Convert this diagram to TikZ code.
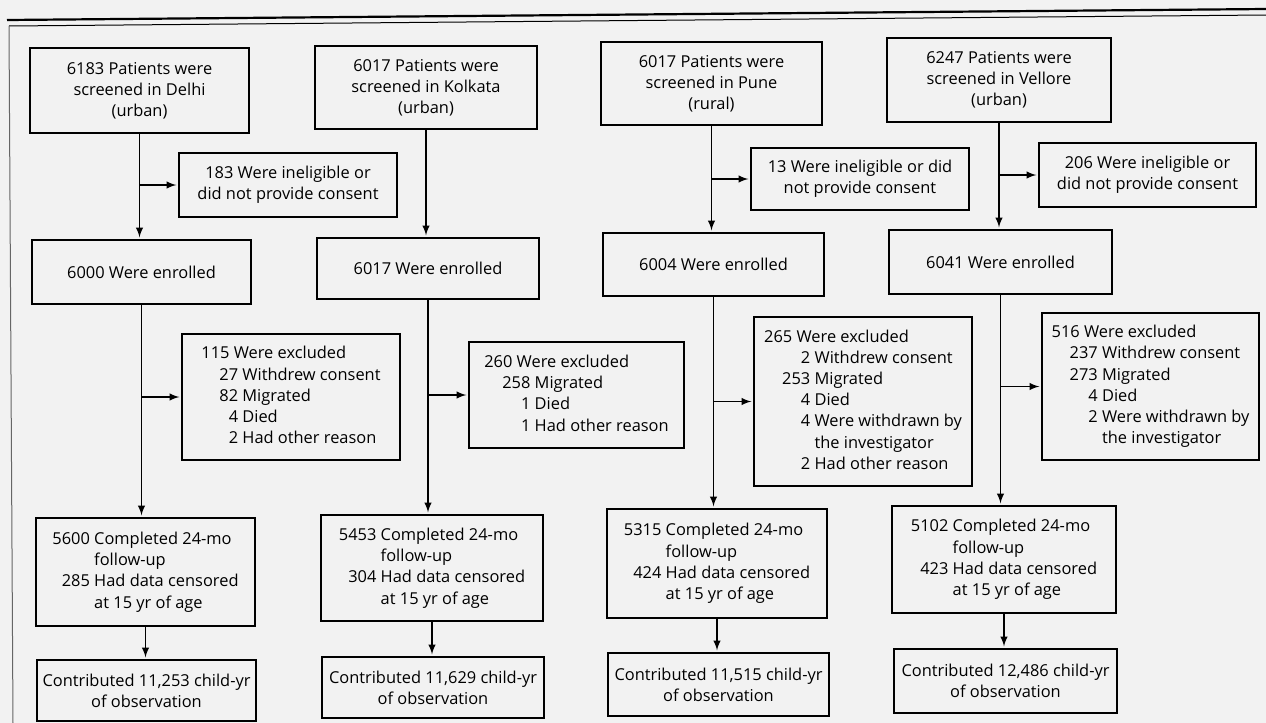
\documentclass[tikz,border=0pt]{standalone}
\usepackage{fontspec}
\setmainfont{Open Sans}
\usetikzlibrary{arrows}
\tikzset{
	box/.style={draw, line width=0.7pt, inner sep=0pt, align=center, font=\fontsize{8.2}{10.6}\selectfont},
	flow/.style={line width=0.7pt, -latex, shorten >=1pt}
}
\begin{document}
\begin{tikzpicture}[x=0.5pt,y=-0.5pt]
	\useasboundingbox (0,0) rectangle (1266,723);
	\fill[black!5] (0,0) rectangle (1266,723);
	% frame
	\draw[line width=1.1pt] (7,20)--(1266,9);
	\draw[line width=0.5pt] (9,26)--(1266,15);
	\draw[line width=0.5pt,black!60] (9,26)--(13,723);
	% screened
	\node[box,minimum width=109.5pt,minimum height=42.5pt] (scrD) at (139.5,90.5) {6183 Patients were\\screened in Delhi\\(urban)};
	\node[box,minimum width=111pt,minimum height=41.5pt] (scrK) at (426,87.5) {6017 Patients were\\screened in Kolkata\\(urban)};
	\node[box,minimum width=110.5pt,minimum height=41.5pt] (scrP) at (711.5,83.5) {6017 Patients were\\screened in Pune\\(rural)};
	\node[box,minimum width=112pt,minimum height=42pt] (scrV) at (999,80) {6247 Patients were\\screened in Vellore\\(urban)};
	% ineligible
	\node[box,minimum width=109pt,minimum height=32pt] (inD) at (288,185) {183 Were ineligible or\\did not provide consent};
	\node[box,minimum width=109pt,minimum height=31pt] (inP) at (860,179) {13 Were ineligible or did\\not provide consent};
	\node[box,minimum width=108.5pt,minimum height=32pt] (inV) at (1147.5,175) {206 Were ineligible or\\did not provide consent};
	% enrolled
	\node[box,minimum width=109.5pt,minimum height=32pt] (enD) at (141.5,272) {6000 Were enrolled};
	\node[box,minimum width=111pt,minimum height=30.5pt] (enK) at (428,268.5) {6017 Were enrolled};
	\node[box,minimum width=110.5pt,minimum height=31.5pt] (enP) at (713.5,264.5) {6004 Were enrolled};
	\node[box,minimum width=111.5pt,minimum height=32pt] (enV) at (1000.5,262) {6041 Were enrolled};
	% excluded
	\node[box,minimum width=109pt,minimum height=63pt] (exD) at (291,397) {\begin{tabular}{@{}p{9pt}@{}r@{ }l@{}}
		\multicolumn{3}{@{}l@{}}{115 Were excluded}\\
		& 27 & Withdrew consent\\
		& 82 & Migrated\\
		& 4 & Died\\
		& 2 & Had other reason
	\end{tabular}};
	\node[box,minimum width=107.5pt,minimum height=53pt] (exK) at (576.5,395) {\begin{tabular}{@{}p{9pt}@{}r@{ }l@{}}
		\multicolumn{3}{@{}l@{}}{260 Were excluded}\\
		& 258 & Migrated\\
		& 1 & Died\\
		& 1 & Had other reason
	\end{tabular}};
	\node[box,minimum width=109pt,minimum height=84.5pt] (exP) at (863,401.5) {\begin{tabular}{@{}p{9pt}@{}r@{ }l@{}}
		\multicolumn{3}{@{}l@{}}{265 Were excluded}\\
		& 2 & Withdrew consent\\
		& 253 & Migrated\\
		& 4 & Died\\
		& 4 & Were withdrawn by\\
		& & the investigator\\
		& 2 & Had other reason
	\end{tabular}};
	\node[box,minimum width=108.5pt,minimum height=73.5pt] (exV) at (1150.5,386.5) {\begin{tabular}{@{}p{9pt}@{}r@{ }l@{}}
		\multicolumn{3}{@{}l@{}}{516 Were excluded}\\
		& 237 & Withdrew consent\\
		& 273 & Migrated\\
		& 4 & Died\\
		& 2 & Were withdrawn by\\
		& & the investigator
	\end{tabular}};
	% completed
	\node[box,minimum width=109.5pt,minimum height=54pt] (coD) at (145.5,572) {\begin{tabular}{@{}r@{ }l@{}}
		5600 & Completed 24-mo\\ & follow-up\\ 285 & Had data censored\\ & at 15 yr of age
	\end{tabular}};
	\node[box,minimum width=111pt,minimum height=53pt] (coK) at (432,568) {\begin{tabular}{@{}r@{ }l@{}}
		5453 & Completed 24-mo\\ & follow-up\\ 304 & Had data censored\\ & at 15 yr of age
	\end{tabular}};
	\node[box,minimum width=110pt,minimum height=54.5pt] (coP) at (717,563.5) {\begin{tabular}{@{}r@{ }l@{}}
		5315 & Completed 24-mo\\ & follow-up\\ 424 & Had data censored\\ & at 15 yr of age
	\end{tabular}};
	\node[box,minimum width=112pt,minimum height=53.5pt] (coV) at (1004,559.5) {\begin{tabular}{@{}r@{ }l@{}}
		5102 & Completed 24-mo\\ & follow-up\\ 423 & Had data censored\\ & at 15 yr of age
	\end{tabular}};
	% contributed
	\node[box,minimum width=109.5pt,minimum height=30.5pt] (ctD) at (146.5,690.5) {Contributed 11,253 child-yr\\of observation};
	\node[box,minimum width=111pt,minimum height=30.5pt] (ctK) at (433,687.5) {Contributed 11,629 child-yr\\of observation};
	\node[box,minimum width=110.5pt,minimum height=31.5pt] (ctP) at (718.5,684.5) {Contributed 11,515 child-yr\\of observation};
	\node[box,minimum width=111.5pt,minimum height=32pt] (ctV) at (1005.5,681) {Contributed 12,486 child-yr\\of observation};
	% Delhi
	\draw[flow] (scrD.south)--(scrD.south |- enD.north);
	\draw[flow] (scrD.south |- inD.west)--(inD.west);
	\draw[flow] (enD.south)--(enD.south |- coD.north);
	\draw[flow] (enD.south |- exD.west)--(exD.west);
	\draw[flow] (coD.south)--(coD.south |- ctD.north);
	% Kolkata
	\draw[flow] (scrK.south)--(scrK.south |- enK.north);
	\draw[flow] (enK.south)--(enK.south |- coK.north);
	\draw[flow] (enK.south |- exK.west)--(exK.west);
	\draw[flow] (coK.south)--(coK.south |- ctK.north);
	% Pune
	\draw[flow] (scrP.south)--(scrP.south |- enP.north);
	\draw[flow] (scrP.south |- inP.west)--(inP.west);
	\draw[flow] (enP.south)--(enP.south |- coP.north);
	\draw[flow] (enP.south |- exP.west)--(exP.west);
	\draw[flow] (coP.south)--(coP.south |- ctP.north);
	% Vellore
	\draw[flow] (scrV.south)--(scrV.south |- enV.north);
	\draw[flow] (scrV.south |- inV.west)--(inV.west);
	\draw[flow] (enV.south)--(enV.south |- coV.north);
	\draw[flow] (enV.south |- exV.west)--(exV.west);
	\draw[flow] (coV.south)--(coV.south |- ctV.north);
\end{tikzpicture}
\end{document}
